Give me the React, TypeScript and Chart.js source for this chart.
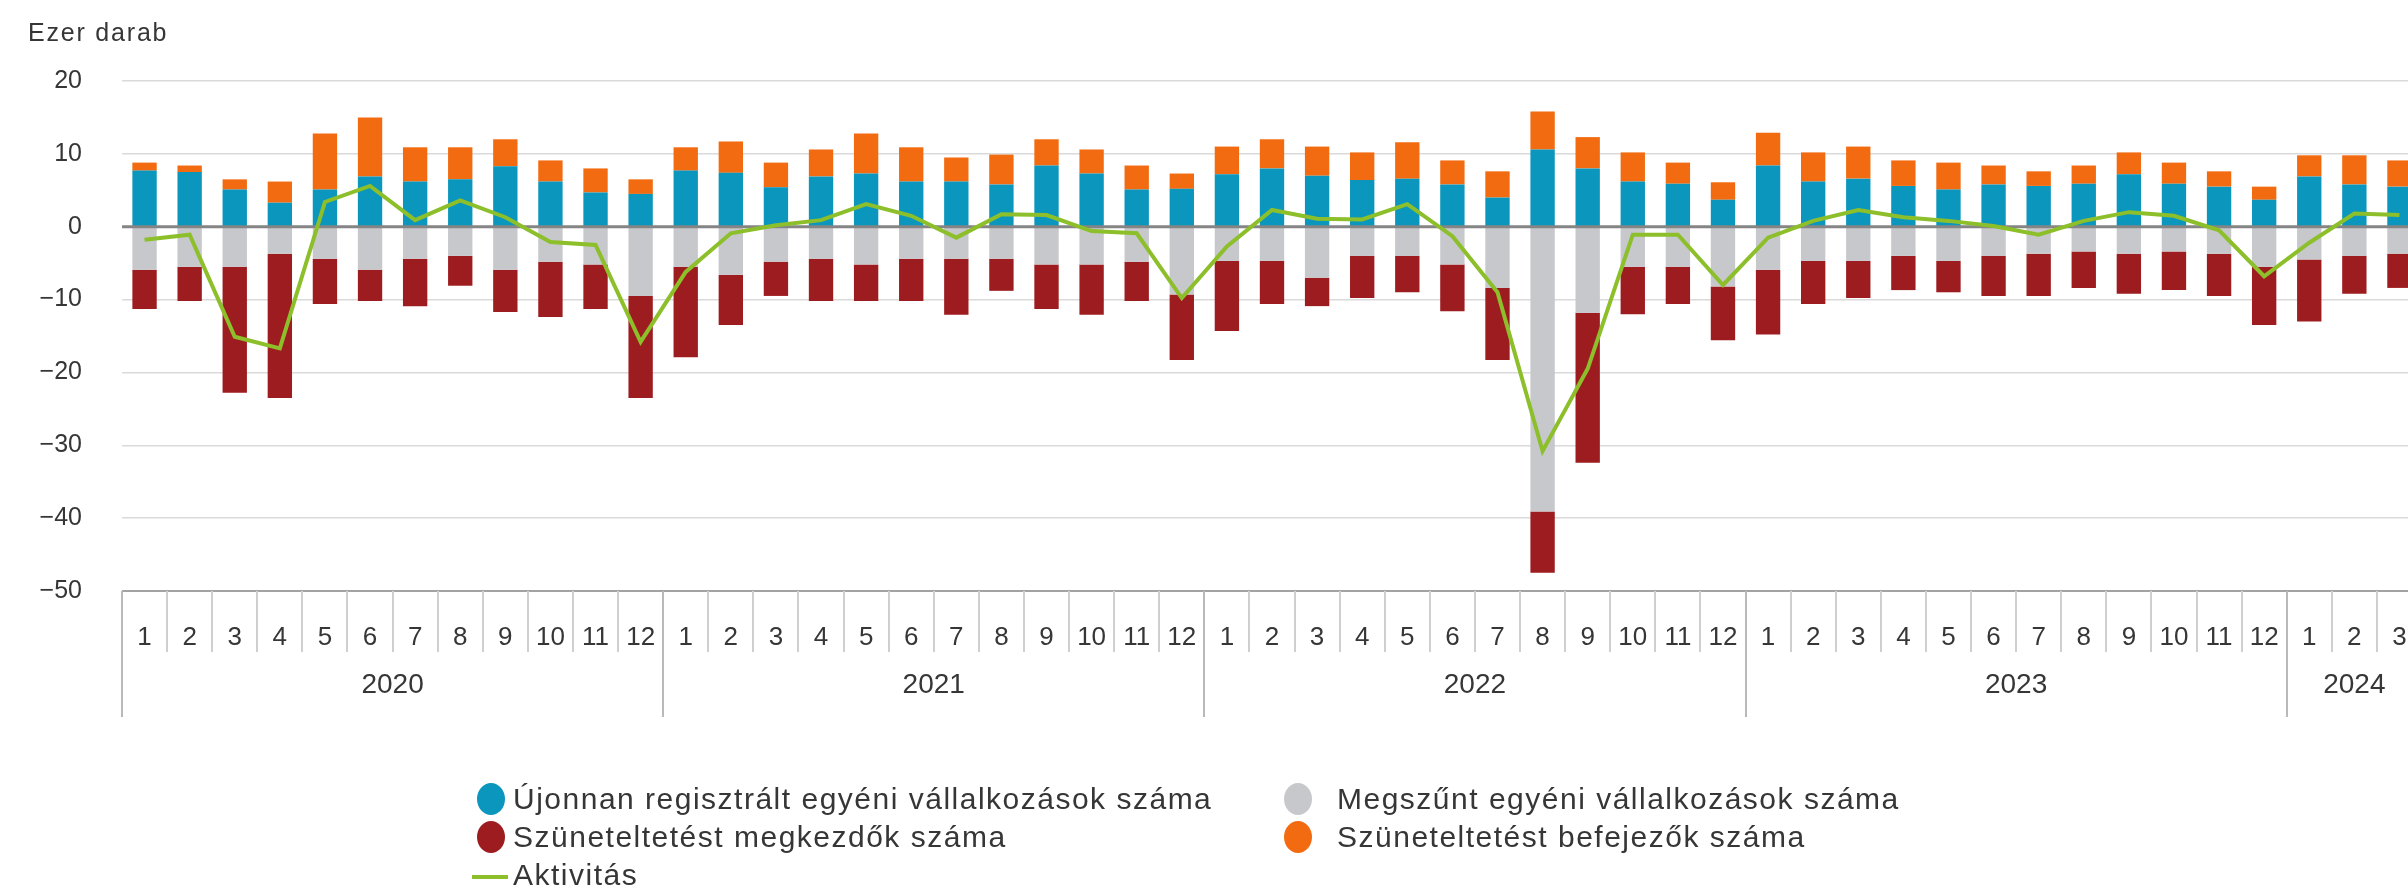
import React, { useEffect, useRef } from 'react';
import { Chart, registerables } from 'chart.js';

Chart.register(...registerables);

// ---- Data ----
const YEAR_LABELS = ['2020', '2021', '2022', '2023', '2024'];
const MONTHS_IN_YEAR = [12, 12, 12, 12, 3];
const MONTH_LABELS = [
  '1', '2', '3', '4', '5', '6', '7', '8', '9', '10', '11', '12',
  '1', '2', '3', '4', '5', '6', '7', '8', '9', '10', '11', '12',
  '1', '2', '3', '4', '5', '6', '7', '8', '9', '10', '11', '12',
  '1', '2', '3', '4', '5', '6', '7', '8', '9', '10', '11', '12',
  '1', '2', '3',
];
const Y_TICKS = [20, 10, 0, -10, -20, -30, -40, -50];

// Újonnan regisztrált egyéni vállalkozások száma
const NEW_REGISTERED = [
  7.7, 7.5, 5.1, 3.3, 5.1, 6.9, 6.2, 6.5, 8.3, 6.2, 4.7, 4.5,
  7.7, 7.4, 5.4, 6.9, 7.3, 6.2, 6.2, 5.8, 8.4, 7.3, 5.1, 5.2,
  7.2, 8.0, 7.0, 6.4, 6.6, 5.8, 4.0, 10.6, 8.0, 6.2, 5.9, 3.7,
  8.4, 6.2, 6.6, 5.6, 5.1, 5.8, 5.6, 5.9, 7.2, 5.9, 5.5, 3.7,
  6.9, 5.8, 5.5,
];
// Szüneteltetést befejezők száma
const RESUMED = [
  1.1, 0.9, 1.4, 2.9, 7.7, 8.1, 4.7, 4.4, 3.7, 2.9, 3.3, 2.0,
  3.2, 4.3, 3.4, 3.7, 5.5, 4.7, 3.3, 4.1, 3.6, 3.3, 3.3, 2.1,
  3.8, 4.0, 4.0, 3.8, 5.0, 3.3, 3.6, 5.2, 4.3, 4.0, 2.9, 2.4,
  4.5, 4.0, 4.4, 3.5, 3.7, 2.6, 2.0, 2.5, 3.0, 2.9, 2.1, 1.8,
  2.9, 4.0, 3.6,
];
// Megszűnt egyéni vállalkozások száma
const CEASED = [
  -5.9, -5.5, -5.5, -3.7, -4.4, -5.9, -4.4, -4.0, -5.9, -4.8, -5.2, -9.5,
  -5.5, -6.6, -4.8, -4.4, -5.2, -4.4, -4.4, -4.4, -5.2, -5.2, -4.8, -9.3,
  -4.7, -4.7, -7.0, -4.0, -4.0, -5.2, -8.4, -39.1, -11.8, -5.5, -5.5, -8.2,
  -5.9, -4.7, -4.7, -4.0, -4.7, -4.0, -3.7, -3.4, -3.7, -3.4, -3.7, -5.5,
  -4.5, -4.0, -3.7,
];
// Szüneteltetést megkezdők száma
const SUSPENDED = [
  -5.4, -4.7, -17.3, -19.8, -6.2, -4.3, -6.5, -4.1, -5.8, -7.6, -6.1, -14.0,
  -12.4, -6.9, -4.7, -5.8, -5.0, -5.8, -7.7, -4.4, -6.1, -6.9, -5.4, -9.0,
  -9.6, -5.9, -3.9, -5.8, -5.0, -6.4, -9.9, -8.4, -20.6, -6.5, -5.1, -7.4,
  -8.9, -5.9, -5.1, -4.7, -4.3, -5.5, -5.8, -5.0, -5.5, -5.3, -5.8, -8.0,
  -8.5, -5.2, -4.7,
];
// Aktivitás
const ACTIVITY = [
  -1.8, -1.1, -15.1, -16.7, 3.4, 5.6, 0.9, 3.6, 1.3, -2.1, -2.5, -15.8,
  -6.2, -0.9, 0.2, 0.9, 3.1, 1.5, -1.5, 1.7, 1.6, -0.6, -0.9, -9.8,
  -2.7, 2.3, 1.1, 1.0, 3.1, -1.3, -9.0, -30.8, -19.5, -1.1, -1.1, -8.0,
  -1.5, 0.8, 2.3, 1.3, 0.8, 0.1, -1.1, 0.8, 2.0, 1.5, -0.5, -6.8,
  -2.2, 1.8, 1.6,
];

const SERIES_NAMES = [
  'Újonnan regisztrált egyéni vállalkozások száma',
  'Megszűnt egyéni vállalkozások száma',
  'Szüneteltetést megkezdők száma',
  'Szüneteltetést befejezők száma',
  'Aktivitás',
];

// ---- Styles ----
const C_BLUE = '#0b96bd';
const C_ORANGE = '#f26b10';
const C_GREY = '#c7c8cc';
const C_RED = '#9d1c20';
const C_GREEN = '#8cbf2a';
const TEXT = '#363636';
const FONT = "'Liberation Sans', Arial, sans-serif";

const CANVAS_W = 2440;
const CANVAS_H = 888;
const PLOT_TOP = 81;
const PLOT_BOTTOM = 591;
const X_AXIS_H = 130;

const axisDecor = {
  id: 'axisDecor',
  beforeDatasetDraw(chart: any, args: any) {
    if (args.meta.type !== 'line') return;
    const { ctx, chartArea } = chart;
    const y = chart.scales.y.getPixelForValue(0);
    ctx.save();
    ctx.strokeStyle = '#858585';
    ctx.lineWidth = 3;
    ctx.beginPath();
    ctx.moveTo(chartArea.left, y);
    ctx.lineTo(chartArea.right, y);
    ctx.stroke();
    ctx.restore();
  },
  afterDraw(chart: any) {
    const { ctx, chartArea } = chart;
    const xs = chart.scales.x;
    const n = MONTH_LABELS.length;
    const step = xs.getPixelForValue(1) - xs.getPixelForValue(0);
    const yearStarts: number[] = [];
    let acc = 0;
    MONTHS_IN_YEAR.forEach((m) => {
      yearStarts.push(acc);
      acc += m;
    });
    ctx.save();
    ctx.lineWidth = 2;
    for (let i = 0; i <= n; i++) {
      const px = Math.round(xs.getPixelForValue(i) - step / 2);
      const isYear = yearStarts.includes(i);
      ctx.strokeStyle = isYear ? '#b9b9b9' : '#cfcfcf';
      ctx.beginPath();
      ctx.moveTo(px, chartArea.bottom);
      ctx.lineTo(px, chartArea.bottom + (isYear ? 126 : 61));
      ctx.stroke();
    }
    ctx.fillStyle = TEXT;
    ctx.font = `28px ${FONT}`;
    ctx.textAlign = 'center';
    ctx.textBaseline = 'middle';
    YEAR_LABELS.forEach((yl, k) => {
      const s = yearStarts[k];
      const e = s + MONTHS_IN_YEAR[k] - 1;
      const cx = (xs.getPixelForValue(s) + xs.getPixelForValue(e)) / 2;
      ctx.fillText(yl, cx, chartArea.bottom + 94);
    });
    ctx.restore();
  },
};

function ChartCanvas() {
  const ref = useRef<HTMLCanvasElement | null>(null);
  useEffect(() => {
    if (!ref.current) return;
    const chart = new Chart(ref.current, {
      type: 'bar',
      data: {
        labels: MONTH_LABELS,
        datasets: [
          { label: SERIES_NAMES[0], data: NEW_REGISTERED, backgroundColor: C_BLUE, order: 1, stack: 'a' },
          { label: SERIES_NAMES[3], data: RESUMED, backgroundColor: C_ORANGE, order: 1, stack: 'a' },
          { label: SERIES_NAMES[1], data: CEASED, backgroundColor: C_GREY, order: 1, stack: 'a' },
          { label: SERIES_NAMES[2], data: SUSPENDED, backgroundColor: C_RED, order: 1, stack: 'a' },
          {
            type: 'line',
            label: SERIES_NAMES[4],
            data: ACTIVITY,
            borderColor: C_GREEN,
            backgroundColor: C_GREEN,
            borderWidth: 4,
            pointRadius: 0,
            tension: 0,
            order: 0,
            stack: 'line',
          } as any,
        ],
      },
      options: {
        responsive: false,
        animation: false,
        devicePixelRatio: 1,
        layout: {
          padding: {
            top: PLOT_TOP,
            right: 18,
            left: 0,
            bottom: CANVAS_H - PLOT_BOTTOM - X_AXIS_H,
          },
        },
        datasets: {
          bar: { barPercentage: 0.54, categoryPercentage: 1, borderWidth: 0 },
        },
        plugins: {
          legend: { display: false },
          tooltip: { enabled: false },
          title: { display: false },
        },
        scales: {
          x: {
            type: 'category',
            stacked: true,
            offset: true,
            grid: { display: false },
            border: { display: false },
            ticks: {
              autoSkip: false,
              maxRotation: 0,
              minRotation: 0,
              padding: 23,
              color: TEXT,
              font: { family: FONT, size: 26 },
            },
            afterFit: (s: any) => {
              s.height = X_AXIS_H;
            },
          },
          y: {
            stacked: true,
            min: -50,
            max: 20,
            afterBuildTicks: (s: any) => {
              s.ticks = Y_TICKS.map((v) => ({ value: v }));
            },
            ticks: {
              padding: 40,
              color: TEXT,
              font: { family: FONT, size: 25 },
              callback: (v: any) => (Number(v) < 0 ? '\u2212' + Math.abs(Number(v)) : String(v)),
            },
            grid: {
              drawTicks: false,
              color: (c: any) =>
                c.tick && c.tick.value === 0
                  ? 'rgba(0,0,0,0)'
                  : c.tick && c.tick.value === -50
                  ? '#a3a3a3'
                  : '#dadada',
              lineWidth: (c: any) => (c.tick && c.tick.value === -50 ? 2 : 1.5),
            },
            border: { display: false },
            afterFit: (s: any) => {
              s.width = 122;
            },
          },
        },
      },
      plugins: [axisDecor],
    } as any);
    return () => chart.destroy();
  }, []);
  return (
    <canvas
      ref={ref}
      width={CANVAS_W}
      height={CANVAS_H}
      style={{ position: 'absolute', left: 0, top: 0, width: CANVAS_W, height: CANVAS_H }}
    />
  );
}

const legendText: React.CSSProperties = {
  position: 'absolute',
  fontFamily: FONT,
  fontSize: 30,
  lineHeight: '30px',
  letterSpacing: '1.5px',
  color: TEXT,
  whiteSpace: 'nowrap',
};

function Dot({ cx, cy, color }: { cx: number; cy: number; color: string }) {
  return (
    <div
      style={{
        position: 'absolute',
        left: cx - 14,
        top: cy - 16,
        width: 28,
        height: 32,
        borderRadius: '50%',
        background: color,
      }}
    />
  );
}

export default function App() {
  return (
    <div
      style={{
        position: 'absolute',
        left: 0,
        top: 0,
        width: 2408,
        height: 888,
        overflow: 'hidden',
        background: '#ffffff',
      }}
    >
      <ChartCanvas />
      <div
        style={{
          position: 'absolute',
          left: 28,
          top: 20,
          fontFamily: FONT,
          fontSize: 25,
          lineHeight: '25px',
          letterSpacing: '1.8px',
          color: TEXT,
          whiteSpace: 'nowrap',
        }}
      >
        Ezer darab
      </div>
      <Dot cx={491} cy={799} color={C_BLUE} />
      <div style={{ ...legendText, left: 513, top: 784 }}>{SERIES_NAMES[0]}</div>
      <Dot cx={491} cy={837} color={C_RED} />
      <div style={{ ...legendText, left: 513, top: 822 }}>{SERIES_NAMES[2]}</div>
      <div
        style={{
          position: 'absolute',
          left: 472,
          top: 875,
          width: 36,
          height: 4,
          background: C_GREEN,
        }}
      />
      <div style={{ ...legendText, left: 513, top: 860 }}>{SERIES_NAMES[4]}</div>
      <Dot cx={1298} cy={799} color={C_GREY} />
      <div style={{ ...legendText, left: 1337, top: 784 }}>{SERIES_NAMES[1]}</div>
      <Dot cx={1298} cy={837} color={C_ORANGE} />
      <div style={{ ...legendText, left: 1337, top: 822 }}>{SERIES_NAMES[3]}</div>
    </div>
  );
}
